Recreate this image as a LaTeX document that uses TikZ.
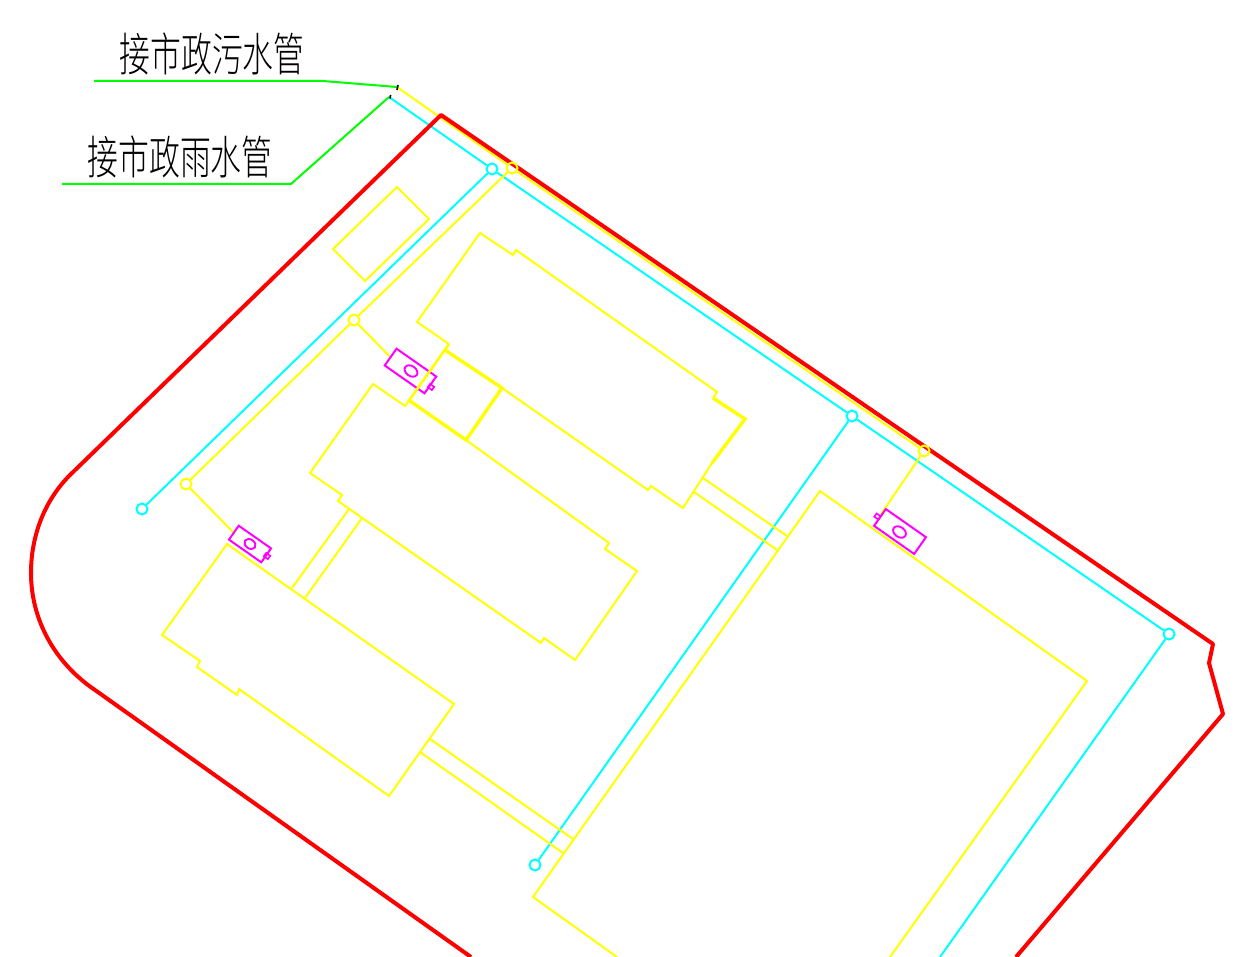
\documentclass[tikz,border=0pt]{standalone}
\usepackage{fontspec}
\newfontfamily\cjk{Noto Sans CJK SC Light}
\usetikzlibrary{backgrounds,shapes.geometric}
\definecolor{pcyan}{RGB}{0,255,255}
\definecolor{pyellow}{RGB}{255,255,0}
\definecolor{pmagenta}{RGB}{255,0,255}
\definecolor{pgreen}{RGB}{0,255,0}
\definecolor{pred}{RGB}{255,0,0}

\begin{document}
\begin{tikzpicture}[x=1pt,y=-1pt]
\tikzstyle{wellc}=[draw=pcyan,circle,line width=2pt,inner sep=0,minimum size=11pt]
\tikzstyle{welly}=[draw=pyellow,circle,line width=2pt,inner sep=0,minimum size=11pt]
\tikzstyle{tank}=[draw=pmagenta,line width=2pt,inner sep=0,rotate=-35]
\tikzstyle{tankeye}=[draw=pmagenta,ellipse,line width=1.9pt,inner sep=0,rotate=-35]
\tikzstyle{pipec}=[pcyan,line width=2pt]
\tikzstyle{pipey}=[pyellow,line width=2pt]
\tikzstyle{lead}=[pgreen,line width=2pt]
\tikzstyle{bati}=[pyellow,line width=2pt,line join=miter]
\tikzstyle{batiw}=[pyellow,line width=3.4pt,line join=miter]
\tikzstyle{limite}=[pred,line width=4pt,line join=round]
\tikzstyle{legende}=[black,font=\cjk\fontsize{46}{46}\selectfont,xscale=.67,inner sep=0]
\tikzstyle{tickm}=[black,line width=1.6pt]

\useasboundingbox (0,0) rectangle (1238,957);

\node[wellc] (c1) at (492,169) {};
\node[wellc] (c2) at (852,416) {};
\node[wellc] (c3) at (1169,634) {};
\node[wellc] (c4) at (142,509) {};
\node[wellc] (c5) at (535,865) {};
\node[welly] (y1) at (512,168) {};
\node[welly] (y2) at (924,451) {};
\node[welly] (y3) at (354,320) {};
\node[welly] (y4) at (186,484) {};

\coordinate (cstart) at (389,97);
\coordinate (ystart) at (397,87);
\coordinate (cend) at (940,957);
\coordinate (leadc) at (291,184);
\coordinate (leady) at (323,81);
\coordinate (leadca) at (62,184);
\coordinate (leadya) at (94,81);

% tanks
\node[tank,minimum width=48.5pt,minimum height=20.5pt] (t1) at (410.5,371) {};
\node[tankeye,minimum width=14pt,minimum height=10pt] (e1) at (411,371) {};
\node[tank,minimum width=5pt,minimum height=4pt,line width=1.6pt] (s1) at (431,387) {};
\node[tank,minimum width=39.5pt,minimum height=17pt] (t2) at (250,544) {};
\node[tankeye,minimum width=12pt,minimum height=9pt] (e2) at (250,544) {};
\node[tank,minimum width=5pt,minimum height=4pt,line width=1.6pt] (s2) at (267,556) {};
\node[tank,minimum width=49pt,minimum height=20.5pt] (t3) at (900,531.5) {};
\node[tankeye,minimum width=14pt,minimum height=10pt] (e3) at (899.5,532) {};
\node[tank,minimum width=5pt,minimum height=4pt,line width=1.6pt] (s3) at (877.5,516.5) {};

\begin{scope}[on background layer]
\draw[pipec] (cstart)--(c1);
\draw[pipec] (c1)--(c2);
\draw[pipec] (c2)--(c3);
\draw[pipec] (c1)--(c4);
\draw[pipec] (c2)--(c5);
\draw[pipec] (c3)--(cend);

\draw[pipey] (ystart)--(y1);
\draw[pipey] (y1)--(y2);
\draw[pipey] (y1)--(y3);
\draw[pipey] (y3)--(y4);
\draw[pipey] (y3)--(t1.west);
\draw[pipey] (y4)--(t2.west);
\draw[pipey] (y2)--(t3.west);

% site boundary
\draw[limite] (471,957)--(95,690) .. controls (55,663) and (31,620) .. (31,573) .. controls (31,535) and (45,500) .. (70,475)--(441,115)--(1213,644)--(1209,663)--(1223,714)--(1016,957);
\end{scope}

\draw[lead] (leadya)--(leady)--(ystart);
\draw[lead] (leadca)--(leadc)--(cstart);
\draw[tickm] (398,85)--(397,90);
\draw[tickm] (390.6,95)--(390,98.5);

\node[legende] (sewer) at (212,54) {接市政污水管};
\node[legende] (rain) at (180,157) {接市政雨水管};

% buildings
\draw[bati] (397,187)--(429,219)--(365,281)--(333,249)--cycle;

\draw[bati] (502,388)--(648,490)--(651,486)--(683,508)--(712,463);
\draw[bati] (713,398)--(717,392)--(516,250)--(513,255)--(480,233)--(417,322)--(449,344);
\draw[batiw] (713,398)--(745,419)--(712,463);
\draw[batiw] (445,350)--(502,388)--(466,440)--(410,401);
\draw[batiw,line width=2.6pt] (449,344)--(408,402);

\draw[bati] (408,402)--(405,406)--(373,384)--(310,473)--(342,495)--(338,501)--(541,643)--(544,638)--(575,660)--(637,571)--(605,549)--(609,543)--(466,440);
\draw[bati] (349,509)--(292,588);
\draw[bati] (362,518)--(305,598);

\draw[bati] (227,544)--(162,635)--(200,661)--(197,667)--(237,695)--(239,689)--(389,796)--(454,704)--cycle;
\draw[bati] (430,739)--(573,839);
\draw[bati] (420,752)--(563,853);

\draw[bati] (703,478)--(787,536);
\draw[bati] (694,492)--(777,550);
\draw[bati] (617,957)--(533,897)--(820,491)--(1087,681)--(890,957);

\end{tikzpicture}
\end{document}
